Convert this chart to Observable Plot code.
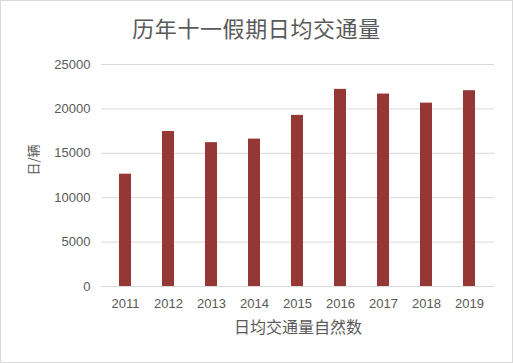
<!DOCTYPE html>
<html>
<head>
<meta charset="utf-8">
<script src="https://cdn.jsdelivr.net/npm/d3@7"></script>
<script src="https://cdn.jsdelivr.net/npm/@observablehq/plot@0.6"></script>
<style>
  html, body { margin: 0; padding: 0; background: #fff; }
  #box { width: 511px; height: 361px; border: 1px solid #d9d9d9; position: relative; overflow: hidden; background: #fff; }
  #title { height: 50px; line-height: 52px; text-align: center; font-family: "Noto Sans CJK SC", sans-serif; font-size: 22px; letter-spacing: 0.6px; color: #595959; }
</style>
</head>
<body>
<div id="box">
  <div id="title">历年十一假期日均交通量</div>
  <div id="chart"></div>
</div>
<script>
const years = ["2011", "2012", "2013", "2014", "2015", "2016", "2017", "2018", "2019"];
const traffic = [12650, 17450, 16200, 16600, 19270, 22200, 21670, 20650, 22050];
const yTicks = [0, 5000, 10000, 15000, 20000, 25000];
const titleText = "历年十一假期日均交通量";
const xLabel = "日均交通量自然数";
const yLabel = "日/辆";

const data = years.map((y, i) => ({year: y, value: traffic[i]}));

const chart = Plot.plot({
  width: 511,
  height: 311,
  marginTop: 13,
  marginBottom: 76,
  marginLeft: 100,
  marginRight: 18,
  style: {fontFamily: "'Liberation Sans', 'Noto Sans CJK SC', sans-serif", fontSize: "13px", color: "#595959", background: "#fff"},
  x: {domain: years, paddingInner: 0.715, paddingOuter: 0.3575, label: null},
  y: {domain: [0, 25000], label: null},
  marks: [
    Plot.gridY(yTicks, {stroke: "#d9d9d9", strokeOpacity: 1, strokeWidth: 1}),
    Plot.barY(data, {x: "year", y: "value", fill: "#953735"}),
    Plot.axisX({tickSize: 0, tickPadding: 12, fontSize: 13, label: null}),
    Plot.axisY(yTicks, {tickSize: 0, tickPadding: 11, tickFormat: d => String(d), fontSize: 13, label: null}),
    Plot.text([xLabel], {frameAnchor: "bottom", dy: 46, fontSize: 16, fill: "#595959", fontFamily: "Noto Sans CJK SC"}),
    Plot.text([yLabel], {frameAnchor: "left", dx: -68, rotate: -90, fontSize: 13, fill: "#595959", fontFamily: "Noto Sans CJK SC"})
  ]
});
document.getElementById("chart").appendChild(chart);
</script>
</body>
</html>
